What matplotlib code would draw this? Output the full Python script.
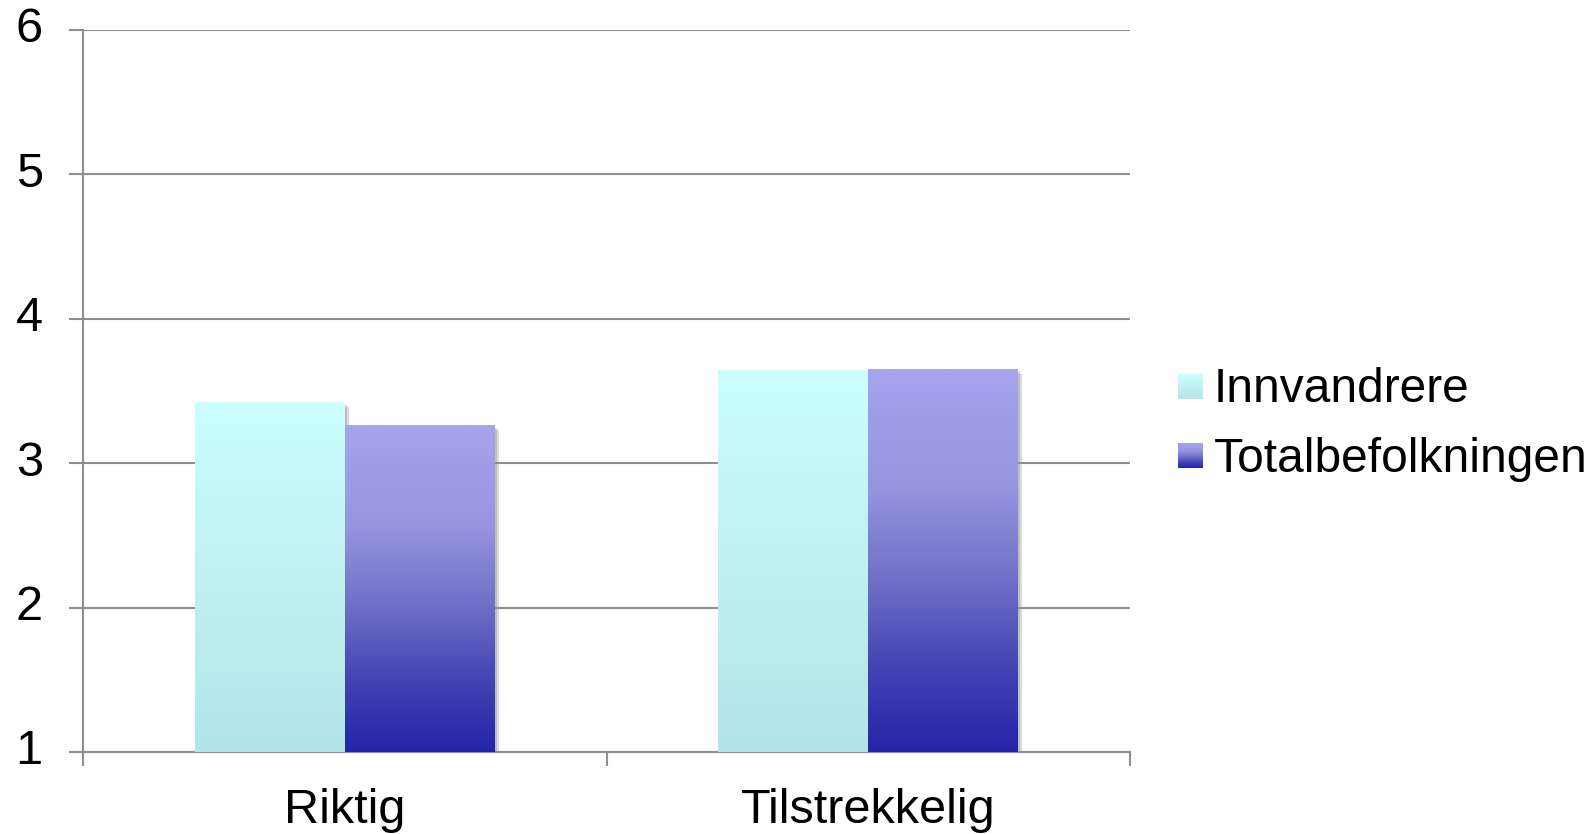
import numpy as np
import matplotlib
matplotlib.use("Agg")
import matplotlib.pyplot as plt
from matplotlib.colors import LinearSegmentedColormap
import matplotlib.patheffects as pe

plt.rcParams['font.family'] = ['Liberation Sans', 'DejaVu Sans']

# data
categories = ['Riktig', 'Tilstrekkelig']
series = ['Innvandrere', 'Totalbefolkningen']
innvandrere = [3.42, 3.64]
totalbefolkningen = [3.26, 3.65]
yticks = [1, 2, 3, 4, 5, 6]

# gradients (bottom -> top)
cmaps = [
    LinearSegmentedColormap.from_list('innv', ['#B3E5E8', '#C0F0F2', '#CCFFFF']),
    LinearSegmentedColormap.from_list('tot', [(0.0, '#2424A8'), (0.23, '#4545B5'),
                                              (0.44, '#6E6EC6'), (0.70, '#9696E0'),
                                              (1.0, '#A5A5EE')]),
]
grad = np.linspace(0, 1, 256).reshape(-1, 1)

grid_col = '#8E8E8E'

fig = plt.figure(figsize=(15.91, 8.34), dpi=100)
ax = fig.add_axes([83 / 1591, 1 - 752 / 834, (1130 - 83) / 1591, (752 - 30) / 834])

x = np.arange(len(categories))
width = 0.2865
shadow = [pe.SimplePatchShadow(offset=(3, -3), shadow_rgbFace='#999999', alpha=0.35),
          pe.SimplePatchShadow(offset=(1.5, -1.5), shadow_rgbFace='#888888', alpha=0.35),
          pe.Normal()]

for i, vals in enumerate([innvandrere, totalbefolkningen]):
    offs = (i - 0.5) * width
    bars = ax.bar(x + offs, [v - 1 for v in vals], width=width,
                  bottom=1, color='white', zorder=2, path_effects=shadow, linewidth=0)
    for b, v in zip(bars, vals):
        x0 = b.get_x()
        ax.imshow(grad, extent=[x0, x0 + width, 1, v], origin='lower', aspect='auto',
                  cmap=cmaps[i], zorder=3, interpolation='bilinear')

ax.set_xlim(-0.5, 1.5)
ax.set_ylim(1, 6)
ax.set_yticks(yticks)
ax.set_xticks(x)
ax.set_xticklabels(categories)
ax.set_xticks([-0.5, 0.5, 1.5], minor=True)

ax.yaxis.grid(True, color=grid_col, linewidth=1.5, zorder=0)
ax.set_axisbelow(True)
for s in ['top', 'right']:
    ax.spines[s].set_visible(False)
for s in ['left', 'bottom']:
    ax.spines[s].set_color(grid_col)
    ax.spines[s].set_linewidth(1.5)

ax.tick_params(axis='y', length=10, width=1.5, color=grid_col, labelsize=35, pad=19)
ax.tick_params(axis='x', which='major', length=0, labelsize=35, pad=26)
ax.tick_params(axis='x', which='minor', length=10, width=1.5, color=grid_col)
for t in ax.get_yticklabels():
    t.set_verticalalignment('center')

# legend drawn by hand (gradient swatches)
for j, name in enumerate(series):
    ytop = 374 + j * 69
    lax = fig.add_axes([1178 / 1591, 1 - (ytop + 25) / 834, 25 / 1591, 25 / 834])
    lax.imshow(grad, origin='lower', aspect='auto', cmap=cmaps[j])
    lax.axis('off')
    fig.text(1214 / 1591, 1 - (ytop + 16) / 834, name, fontsize=34.5, va='center', ha='left')

fig.savefig('out.png', dpi=100)
